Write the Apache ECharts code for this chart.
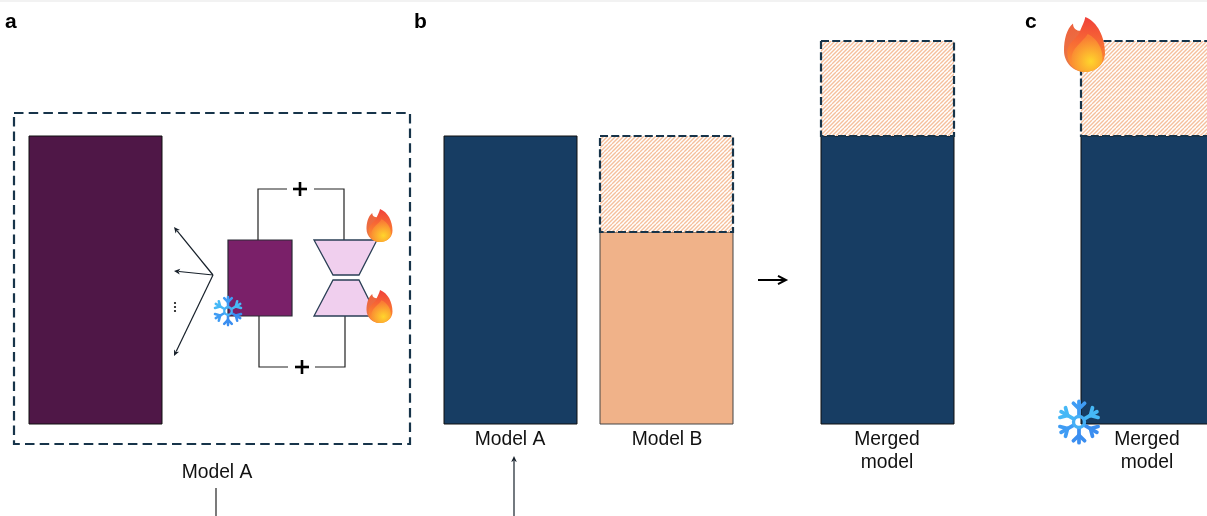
<!DOCTYPE html>
<html>
<head>
<meta charset="utf-8">
<style>html,body{margin:0;padding:0;background:#fff}#c{width:1207px;height:516px}</style>
<script src="https://cdn.jsdelivr.net/npm/echarts@6/dist/echarts.min.js"></script>
</head>
<body>
<div id="c"></div>
<script>
// Diagram contents, in picture units (x to the right, y downward).
var plumBlocks   = [[29,136,162,424]];
var violetBlocks = [[228,240,292,316]];
var navyBlocks   = [[444,136,577,424],[821,136,954,424],[1081,136,1216,424]];
var peachBlocks  = [[600,232,733,424]];
var hatchedBlocks= [[600,136,733,232],[821,41,954,136],[1081,41,1216,136]];
var dashedFrames = [[14,113,410,444]];
var trapezoids   = [[[314,240],[377,240],[359,275],[333,275]],[[333,280],[359,280],[377,316],[314,316]]];
var links = [
  [[258,240],[258,189],[287,189]],[[314,189],[344,189],[344,240]],
  [[259,316],[259,367],[288,367]],[[315,367],[345,367],[345,316]],
  [[216,488],[216,516]]
];
var thinArrows = [
  [[213,275],[174,227]],[[213,275],[174,271]],[[213,275],[174,356]],[[514,516],[514,456]]
];
var thickArrows = [[[758,280],[786,280]]];
var plusSigns = [[300,189],[302,367]];
var ellipsisDots = [[175,303],[175,307],[175,311]];
var flames = [[379.5,225.5,26,33],[379.5,306.5,26,33],[1084.5,44.5,41,55]];
var snowflakes = [[228,311,15],[1079,422,22]];
var panelLetters = [['a',5,22],['b',414,22],['c',1025,22]];
var labels = [
  ['Model A',217,473],['Model A',510,440],['Model B',667,440],
  ['Merged',887,440],['model',887,463],['Merged',1147,440],['model',1147,463]
];
var edgeLine = [[0,1],[1207,1]];

var INK='#17202a', DASH='#17344a';

function hatchPattern(){
  var o=document.createElement('canvas'); o.width=o.height=8;
  var h=o.getContext('2d'); h.fillStyle='#fff'; h.fillRect(0,0,8,8);
  h.strokeStyle='#f5bf9c'; h.lineWidth=1.35;
  for(var j=-8;j<=16;j+=4){ h.beginPath(); h.moveTo(j,8); h.lineTo(j+8,0); h.stroke(); }
  return {image:o,repeat:'repeat'};
}
var HATCH=hatchPattern();

function rectSeries(arr,z,style){
  return {type:'custom',coordinateSystem:'cartesian2d',z:z,silent:true,clip:false,animation:false,
    data:arr,
    encode:{x:[0,2],y:[1,3]},
    renderItem:function(p,api){
      var a=api.coord([api.value(0),api.value(1)]),b=api.coord([api.value(2),api.value(3)]);
      return {type:'rect',shape:{x:a[0],y:a[1],width:b[0]-a[0],height:b[1]-a[1]},style:style};
    }};
}
function listSeries(arr,z,build){
  return {type:'custom',coordinateSystem:'cartesian2d',z:z,silent:true,clip:false,animation:false,
    data:arr.map(function(_,i){return [i];}),
    encode:{x:0},
    renderItem:function(p,api){ return build(arr[p.dataIndex],api); }};
}
function pts(list,api){return list.map(function(q){return api.coord(q);});}

function lineEl(list,api,w,c){
  return {type:'polyline',shape:{points:pts(list,api)},style:{fill:null,stroke:c,lineWidth:w,lineJoin:'miter'}};
}
function arrowEl(list,api,w,c,len,wid){
  var P=pts(list,api),a=P[0],b=P[1],dx=b[0]-a[0],dy=b[1]-a[1],L=Math.sqrt(dx*dx+dy*dy);
  dx/=L;dy/=L;
  var bx=b[0]-dx*len,by=b[1]-dy*len;
  return {type:'group',children:[
    {type:'line',shape:{x1:a[0],y1:a[1],x2:bx+dx,y2:by+dy},style:{stroke:c,lineWidth:w}},
    {type:'polygon',shape:{points:[b,[bx-dy*wid,by+dx*wid],[b[0]-dx*len*0.75,b[1]-dy*len*0.75],[bx+dy*wid,by-dx*wid]]},style:{fill:c}}
  ]};
}
function openArrowEl(list,api,w,c,len,wid){
  var P=pts(list,api),a=P[0],b=P[1];
  return {type:'group',children:[
    {type:'line',shape:{x1:a[0],y1:a[1],x2:b[0]-1,y2:b[1]},style:{stroke:c,lineWidth:w}},
    {type:'polyline',shape:{points:[[b[0]-len,b[1]-wid],[b[0],b[1]],[b[0]-len,b[1]+wid]]},style:{fill:null,stroke:c,lineWidth:w,lineJoin:'miter'}}
  ]};
}

var FLAME_BACK='M22 16 C6 30 0 56 0 82 C0 114 25 135 52 135 L60 50 L40 34 C30 34 22 28 22 16Z';
var FLAME_MAIN='M52 0 C82 12 100 50 100 88 C100 116 78 135 52 135 C26 135 8 116 8 88 C8 60 36 52 40 32 C44 22 50 12 52 0Z';
var FLAME_CORE='M58 42 C82 54 94 78 94 102 C94 122 72 135 52 135 C34 135 18 122 18 104 C18 76 44 64 58 42Z';
function grad(x,y,x2,y2,a,b){return {type:'linear',x:x,y:y,x2:x2,y2:y2,colorStops:[{offset:0,color:a},{offset:1,color:b}]};}

function flameEl(f,api){
  var c=api.coord([f[0],f[1]]),s=api.size([f[2],f[3]]);
  var sx=s[0]/100,sy=Math.abs(s[1])/135,x=c[0]-s[0]/2,y=c[1]-Math.abs(s[1])/2;
  return {type:'group',children:[
    {type:'path',x:x,y:y,scaleX:sx,scaleY:sy,shape:{pathData:FLAME_BACK},style:{fill:grad(0,0,1,1,'#ee5f3c','#e8844a')}},
    {type:'path',x:x,y:y,scaleX:sx,scaleY:sy,shape:{pathData:FLAME_MAIN},style:{fill:grad(0.6,0,0.5,1,'#f0403a','#ff9a2e')}},
    {type:'path',x:x,y:y,scaleX:sx,scaleY:sy,shape:{pathData:FLAME_CORE},style:{fill:{type:'radial',x:0.62,y:0.72,r:0.78,colorStops:[{offset:0,color:'#ffd52c'},{offset:1,color:'#f97c34'}]}}}
  ]};
}
function flakeEl(f,api){
  var c=api.coord([f[0],f[1]]),e=api.coord([f[0]+f[2],f[1]]),r=e[0]-c[0],kids=[],lw=r*0.17;
  var colors=['#3f9cf4','#46b8f6','#3f9cf4','#3b8ef0','#3b8ef0','#46b8f6'];
  for(var k=0;k<6;k++){
    var t=Math.PI/2+k*Math.PI/3, ux=Math.cos(t), uy=-Math.sin(t), col=colors[k];
    var sty={stroke:col,lineWidth:lw,lineCap:'round',fill:null};
    kids.push({type:'line',shape:{x1:c[0]+ux*r*0.3,y1:c[1]+uy*r*0.3,x2:c[0]+ux*r*0.94,y2:c[1]+uy*r*0.94},style:sty});
    [1,-1].forEach(function(sg){
      var a=t+sg*Math.PI/4, vx=Math.cos(a), vy=-Math.sin(a);
      var mx=c[0]+ux*r*0.6,my=c[1]+uy*r*0.6;
      kids.push({type:'line',shape:{x1:mx,y1:my,x2:mx+vx*r*0.36,y2:my+vy*r*0.36},style:sty});
    });
  }
  kids.push({type:'circle',shape:{cx:c[0],cy:c[1],r:r*0.25},style:{fill:null,stroke:'#46b0f6',lineWidth:lw*0.9}});
  return {type:'group',children:kids};
}

var FONT='"Liberation Sans", Arial, sans-serif';
var option={
  animation:false,
  grid:{left:0,right:0,top:0,bottom:0,containLabel:false},
  xAxis:{type:'value',min:0,max:1207,show:false},
  yAxis:{type:'value',min:0,max:516,inverse:true,show:false},
  series:[
    listSeries([edgeLine],1,function(l,api){return lineEl(l,api,1.5,'#eeeeee');}),
    rectSeries(plumBlocks,2,{fill:'#4f1747',stroke:'#111',lineWidth:1}),
    rectSeries(violetBlocks,2,{fill:'#7a2069',stroke:'#2a2a35',lineWidth:1.2}),
    rectSeries(navyBlocks,2,{fill:'#173d63',stroke:'#111',lineWidth:1}),
    rectSeries(peachBlocks,2,{fill:'#f0b289',stroke:'#444',lineWidth:1}),
    rectSeries(hatchedBlocks,3,{fill:HATCH,stroke:DASH,lineWidth:2.2,lineDash:[8,3.2]}),
    rectSeries(dashedFrames,3,{fill:null,stroke:DASH,lineWidth:2.2,lineDash:[9.5,5.2]}),
    listSeries(links,4,function(l,api){return lineEl(l,api,1.2,'#222');}),
    listSeries(trapezoids,5,function(l,api){return {type:'polygon',shape:{points:pts(l,api)},style:{fill:'#f0cfee',stroke:'#2a3f55',lineWidth:1.3}};}),
    listSeries(thinArrows,5,function(l,api){return arrowEl(l,api,1.2,INK,6,2.8);}),
    listSeries(thickArrows,5,function(l,api){return openArrowEl(l,api,2,'#000',8,4.2);}),
    listSeries(plusSigns,5,function(q,api){
      var c=api.coord(q),h=7;
      return {type:'group',children:[
        {type:'line',shape:{x1:c[0]-h,y1:c[1],x2:c[0]+h,y2:c[1]},style:{stroke:'#000',lineWidth:2.6}},
        {type:'line',shape:{x1:c[0],y1:c[1]-h,x2:c[0],y2:c[1]+h},style:{stroke:'#000',lineWidth:2.6}}
      ]};
    }),
    listSeries(ellipsisDots,5,function(q,api){var c=api.coord(q);return {type:'circle',shape:{cx:c[0],cy:c[1],r:1.1},style:{fill:'#111'}};}),
    listSeries(flames,7,flameEl),
    listSeries(snowflakes,7,flakeEl),
    listSeries(panelLetters,8,function(t,api){var c=api.coord([t[1],t[2]]);
      return {type:'text',x:c[0],y:c[1],style:{text:t[0],fill:'#000',font:'bold 21px '+FONT,textAlign:'left',textVerticalAlign:'middle'}};}),
    listSeries(labels,8,function(t,api){var c=api.coord([t[1],t[2]]);
      return {type:'text',x:c[0],y:c[1],style:{text:t[0],fill:'#111',font:'19.3px '+FONT,textAlign:'center',textVerticalAlign:'middle'}};})
  ]
};
var chart=echarts.init(document.getElementById('c'),null,{renderer:'canvas',width:1207,height:516});
chart.setOption(option);
</script>
</body>
</html>
